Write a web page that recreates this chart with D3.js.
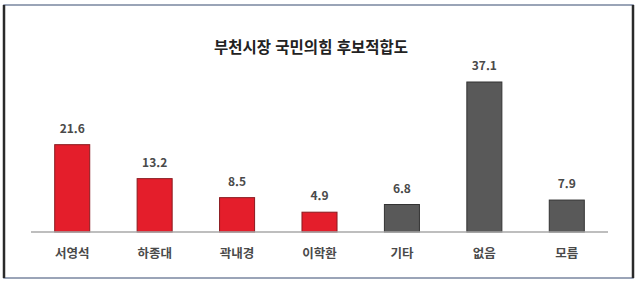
<!DOCTYPE html>
<html lang="ko">
<head>
<meta charset="UTF-8">
<style>
    body { margin: 0; background: #fff; }
    text { font-family: "Noto Sans CJK KR", "Noto Sans", sans-serif; }
    .val { font-size: 12px; fill: #4a4a4a; font-weight: 700; }
    .cat { font-size: 12.5px; fill: #4a4a4a; font-weight: 700; }
    .title { font-size: 15.5px; font-weight: 700; fill: #222; }
</style>
<title>부천시장 국민의힘 후보적합도</title>
</head>
<body>
<div id="chart"></div>
<script src="https://cdn.jsdelivr.net/npm/d3@7/dist/d3.min.js"></script>
<script>
    var categories = ["서영석", "하종대", "곽내경", "이학환", "기타", "없음", "모름"];
    var values = [21.6, 13.2, 8.5, 4.9, 6.8, 37.1, 7.9];
    var candidates = ["서영석", "하종대", "곽내경", "이학환"];   // red bars

    var width = 640, height = 282;
    var baseY = 232;

    var svg = d3.select("#chart").append("svg")
        .attr("width", width)
        .attr("height", height);

    // frame
    svg.append("rect")
        .attr("x", 4).attr("y", 5)
        .attr("width", 629).attr("height", 273)
        .attr("fill", "#fff")
        .attr("stroke", "#7a86a0")
        .attr("stroke-width", 1.5);
    svg.append("line").attr("x1", 4).attr("x2", 4).attr("y1", 5).attr("y2", 278)
        .attr("stroke", "#2a2a2a").attr("stroke-width", 2.5);
    svg.append("line").attr("x1", 633).attr("x2", 633).attr("y1", 5).attr("y2", 278)
        .attr("stroke", "#2a2a2a").attr("stroke-width", 2.5);

    var x = d3.scaleBand()
        .domain(categories)
        .range([31, 608])
        .paddingInner(0.575)
        .paddingOuter(0.2875);

    var y = d3.scaleLinear()
        .domain([0, 37.1])
        .range([baseY, 82]);

    svg.append("text")
        .attr("class", "title")
        .attr("x", 311).attr("y", 53)
        .attr("text-anchor", "middle")
        .text("부천시장 국민의힘 후보적합도");

    svg.selectAll(".bar")
        .data(values)
        .enter().append("rect")
        .attr("class", "bar")
        .attr("x", function(d, i) { return x(categories[i]); })
        .attr("y", function(d) { return y(d); })
        .attr("width", x.bandwidth())
        .attr("height", function(d) { return baseY - y(d); })
        .attr("fill", function(d, i) { return candidates.indexOf(categories[i]) >= 0 ? "#e41e2b" : "#595959"; })
        .attr("stroke", function(d, i) { return candidates.indexOf(categories[i]) >= 0 ? "#8a1a1f" : "#333"; })
        .attr("stroke-width", 1);

    // baseline
    svg.append("line")
        .attr("x1", 31).attr("x2", 608)
        .attr("y1", baseY).attr("y2", baseY)
        .attr("stroke", "#a8a8a8").attr("stroke-width", 1.5);

    svg.selectAll(".val")
        .data(values)
        .enter().append("text")
        .attr("class", "val")
        .attr("x", function(d, i) { return x(categories[i]) + x.bandwidth() / 2; })
        .attr("y", function(d) { return y(d) - 12; })
        .attr("text-anchor", "middle")
        .text(function(d) { return d.toFixed(1); });

    svg.selectAll(".cat")
        .data(categories)
        .enter().append("text")
        .attr("class", "cat")
        .attr("x", function(d) { return x(d) + x.bandwidth() / 2; })
        .attr("y", 258)
        .attr("text-anchor", "middle")
        .text(function(d) { return d; });
</script>
</body>
</html>
